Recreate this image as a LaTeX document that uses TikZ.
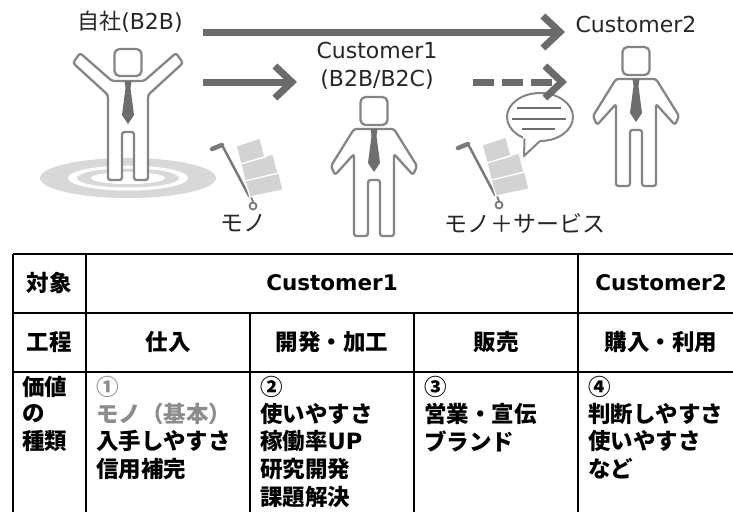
\documentclass[tikz,border=0pt]{standalone}
\usepackage{fontspec}
\setmainfont{DejaVu Sans}
\newfontfamily\jp{Noto Sans CJK JP}
\usetikzlibrary{arrows.meta}

\definecolor{figline}{HTML}{858585}
\definecolor{tiecol}{HTML}{6E6E6E}
\definecolor{arrowcol}{HTML}{6B6B6B}
\definecolor{boxcol}{HTML}{D3D3D3}
\definecolor{ripplecol}{HTML}{D8D8D8}
\definecolor{cartcol}{HTML}{7A7A7A}
\definecolor{mutedtext}{HTML}{8C8C8C}
\definecolor{labeltext}{HTML}{262626}

\tikzset{
  figure outline/.style={draw=figline, line width=2.3pt, fill=white,
    rounded corners=2.5pt, line join=round},
  flow/.style={draw=arrowcol, line width=7pt,
    -{Straight Barb[length=17pt,width=32pt]}},
  toplabel/.style={text=labeltext, inner sep=0pt,
    font=\fontsize{22}{28}\selectfont},
  kanalabel/.style={text=labeltext, inner sep=0pt,
    font=\fontsize{23}{26}\selectfont\jp},
  headcell/.style={inner sep=0pt, font=\fontsize{21.5}{24}\selectfont\bfseries},
  headkana/.style={inner sep=0pt, font=\fontsize{22.5}{24}\selectfont\bfseries\jp},
  bodycell/.style={inner sep=0pt, anchor=west,
    font=\fontsize{22.5}{24}\selectfont\bfseries},
  gridline/.style={draw=black, line width=1.3pt},
  pics/tie/.style={code={
    \fill[tiecol] (-3.5,0) -- (3.5,0) -- (2.5,7) -- (6,34) -- (0,43)
      -- (-6,34) -- (-2.5,7) -- cycle;
  }},
  % standing person, arms down; origin at the neck
  pics/standman/.style={code={
    \draw[figure outline] (-20,0) -- (-43,37) -- (-39,46) -- (-20,25)
      -- (-20,107) -- (-6,107) -- (-6,51) -- (6,51) -- (6,107) -- (20,107)
      -- (20,25) -- (39,46) -- (43,37) -- (20,0) -- cycle;
    \draw[figure outline, rounded corners=5pt] (-13.5,-32) rectangle (13.5,-4);
    \pic {tie};
  }},
  % person with both arms raised; origin at the neck
  pics/cheerman/.style={code={
    \draw[figure outline] (-16,0) -- (-48,-28) -- (-55,-18) -- (-20,14)
      -- (-20,99) -- (-6,99) -- (-6,51) -- (6,51) -- (6,99) -- (20,99)
      -- (20,14) -- (55,-18) -- (48,-28) -- (16,0) -- cycle;
    \draw[figure outline, rounded corners=5pt] (-13.5,-32) rectangle (13.5,-5);
    \pic {tie};
  }},
  % hand truck with three boxes; origin at the wheel
  pics/handcart/.style={code={
    \draw[cartcol, line width=2.5pt, line join=round]
      (-31,-61) -- (-4,-10) -- (29,-18);
    \draw[cartcol, line width=4.5pt, line cap=round] (-41,-57) -- (-31,-61);
    \draw[cartcol, line width=1.8pt] (-2,-9) -- (0,-4);
    \draw[cartcol, line width=1.8pt, fill=white] (0,0) circle[radius=3.5];
    \filldraw[fill=boxcol, draw=white, line width=1.2pt]
      (-17,-60) -- (7,-68) -- (12,-49) -- (-12,-42) -- cycle
      (-12,-42) -- (20,-52) -- (25,-33) -- (-8,-25) -- cycle
      (-8,-25) -- (26,-33) -- (30,-16) -- (-3,-9) -- cycle;
  }},
}

\begin{document}
\begin{tikzpicture}[x=1pt, y=-1pt]
  \useasboundingbox[fill=white] (0,0) rectangle (733,512);

  % ripple under the company figure
  \fill[ripplecol] (128,178) ellipse[x radius=88, y radius=20];
  \fill[white] (128,178) ellipse[x radius=60, y radius=12.5];
  \fill[ripplecol] (128,178) ellipse[x radius=51, y radius=9.5];
  \fill[white] (128,178) ellipse[x radius=37, y radius=6];

  % people
  \pic (self) at (128,81) {cheerman};
  \pic (cust1) at (374,129) {standman};
  \pic (cust2) at (636,79) {standman};

  % goods on hand trucks
  \pic (cartA) at (253,206) {handcart};
  \pic (cartB) at (499,205) {handcart};

  % speech bubble for the service part
  \draw[draw=figline, line width=2pt, fill=white]
    (540,117) ellipse[x radius=33, y radius=24];
  \fill[white] (523,136) -- (524,156) -- (541,139) -- (540,133) -- cycle;
  \draw[figline, line width=2pt, line join=round]
    (524.5,138.5) -- (524,156) -- (540,141);
  \draw[tiecol, line width=2pt]
    (517,108) -- (561,108)
    (512,118.5) -- (566,118.5)
    (522,129) -- (555,129);

  % labels
  \node[toplabel] (lblself) at (130,22) {{\jp 自社}(B2B)};
  \node[toplabel, align=center] (lblc1) at (377,66) {Customer1\\(B2B/B2C)};
  \node[toplabel] (lblc2) at (636,24) {Customer2};
  \node[kanalabel] (lblgoods) at (243,223) {モノ};
  \node[kanalabel] (lblgoodsplus) at (525,224) {モノ＋サービス};

  % flows
  \coordinate (selfTop) at (203,32);
  \coordinate (c2Top) at (565,32);
  \coordinate (selfMid) at (203,82);
  \coordinate (c1Mid) at (297,82);
  \coordinate (c1Right) at (473,82);
  \coordinate (c2Mid) at (567,82);
  \draw[flow] (selfTop) -- (c2Top);
  \draw[flow] (selfMid) -- (c1Mid);
  \draw[flow, dash pattern=on 21pt off 8pt] (c1Right) -- (c2Mid);

  % value table grid
  \draw[gridline] (13,254) -- (733,254);
  \draw[gridline] (13,313) -- (733,313);
  \draw[gridline] (13,372) -- (733,372);
  \draw[gridline] (13,254) -- (13,512);
  \draw[gridline] (86,254) -- (86,512);
  \draw[gridline] (250,313) -- (250,512);
  \draw[gridline] (414,313) -- (414,512);
  \draw[gridline] (578,254) -- (578,512);

  % header rows
  \node[headkana] (hTarget) at (49,283) {対象};
  \node[headcell] (hCust1) at (332,283) {Customer1};
  \node[headcell] (hCust2) at (661,283) {Customer2};
  \node[headkana] (hStep) at (49,342) {工程};
  \node[headkana] (hBuy) at (168,342) {仕入};
  \node[headkana] (hDev) at (332,342) {開発・加工};
  \node[headkana] (hSell) at (496,342) {販売};
  \node[headkana] (hUse) at (661,342) {購入・利用};

  % value rows
  \node[bodycell] (vA) at (22,387) {\jp 価値};
  \node[bodycell] (vB) at (22,414) {\jp の};
  \node[bodycell] (vC) at (22,441) {\jp 種類};

  \node[bodycell, text=mutedtext] (a1) at (96,387) {\jp ①};
  \node[bodycell, text=mutedtext] (a2) at (96,414) {\jp モノ（基本）};
  \node[bodycell] (a3) at (96,441) {\jp 入手しやすさ};
  \node[bodycell] (a4) at (96,469) {\jp 信用補完};

  \node[bodycell] (b1) at (260,387) {\jp ②};
  \node[bodycell] (b2) at (260,414) {\jp 使いやすさ};
  \node[bodycell] (b3) at (260,441) {{\jp 稼働率}UP};
  \node[bodycell] (b4) at (260,469) {\jp 研究開発};
  \node[bodycell] (b5) at (260,497) {\jp 課題解決};

  \node[bodycell] (c1) at (424,387) {\jp ③};
  \node[bodycell] (c2) at (424,414) {\jp 営業・宣伝};
  \node[bodycell] (c3) at (424,441) {\jp ブランド};

  \node[bodycell] (d1) at (588,387) {\jp ④};
  \node[bodycell] (d2) at (588,414) {\jp 判断しやすさ};
  \node[bodycell] (d3) at (588,441) {\jp 使いやすさ};
  \node[bodycell] (d4) at (588,469) {\jp など};
\end{tikzpicture}
\end{document}
